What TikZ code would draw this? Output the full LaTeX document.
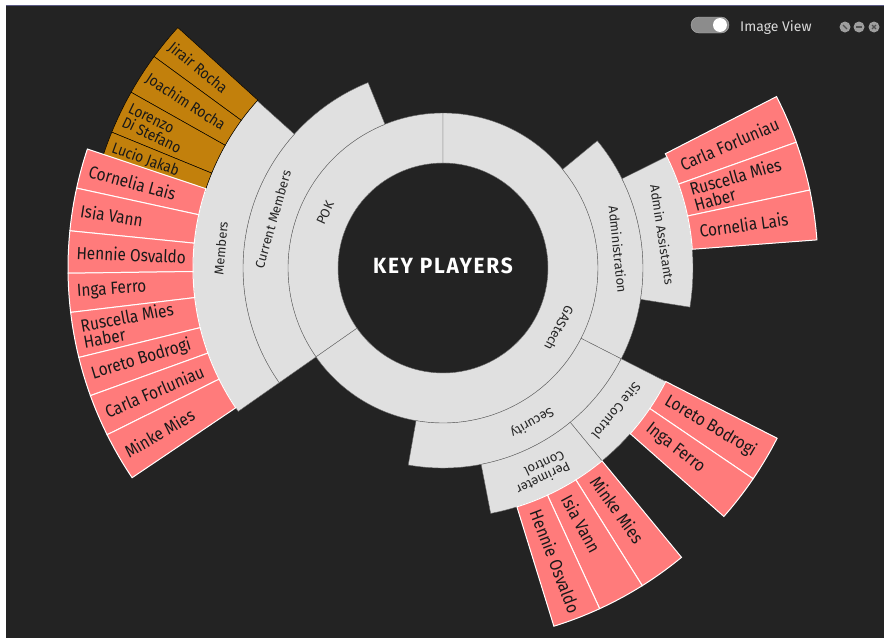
\documentclass[tikz,border=0pt]{standalone}
\usepackage{fontspec}
\setmainfont{Fira Sans}
\newfontfamily\condfont[FakeStretch=0.88]{Fira Sans}
\newfontfamily\titlefont[FakeStretch=0.95,LetterSpace=8]{Fira Sans}
\definecolor{panel}{HTML}{232323}
\definecolor{ringgrey}{HTML}{E0E0E0}
\definecolor{leafpink}{HTML}{FF7B7B}
\definecolor{leafocre}{HTML}{C2800C}
\definecolor{knobgrey}{HTML}{8C8C8C}
\newcommand{\sunslice}[5]{\draw[#1] (#2:#4pt) arc[start angle=#2, end angle=#3, radius=#4pt] -- (#3:#5pt) arc[start angle=#3, end angle=#2, radius=#5pt] -- cycle;}

\begin{document}
\begin{tikzpicture}[x=1pt,y=1pt,
  ring/.style={fill=ringgrey,draw=black!60,line width=0.4pt},
  pinkleaf/.style={fill=leafpink,draw=white,line width=1pt},
  ocreleaf/.style={fill=leafocre,draw=black,line width=0.5pt},
  ringlabel/.style={font=\fontsize{13}{13}\selectfont,text=black!85,inner sep=0pt,align=center},
  leaflabel/.style={font=\condfont\fontsize{17.5}{16.5}\selectfont,text=black!90,inner sep=0pt,align=left},
  ocrelabel/.style={leaflabel,font=\condfont\fontsize{15.5}{15}\selectfont}]
\useasboundingbox (-443,-370) rectangle (441,268);
\fill[white] (-443,-370) rectangle (441,268);
\fill[panel] (-437,-370) rectangle (441,263);
\draw[black!45!blue!30!gray,line width=1pt] (-437,262.5) -- (441,262.5);

% inner rings
\sunslice{ring}{90}{215}{105}{155}
\sunslice{ring}{215}{450}{105}{155}
\sunslice{ring}{112}{215}{155}{200}
\sunslice{ring}{-27}{39.5}{155}{200}
\sunslice{ring}{-100}{-27}{155}{200}
\sunslice{ring}{138}{215}{200}{250}
\sunslice{ring}{-9}{26.5}{200}{250}
\sunslice{ring}{-50.5}{-27}{200}{250}
\sunslice{ring}{-79}{-50.5}{200}{250}

\node[ringlabel,rotate=65] (pok) at (155:130pt) {POK};
\node[ringlabel,rotate=-117.5] (gastech) at (-27.5:131pt) {GAStech};
\node[ringlabel,rotate=74] (current) at (164:177pt) {Current Members};
\node[ringlabel,rotate=-84] (admin) at (6:176pt) {Administration};
\node[ringlabel,rotate=-150] (security) at (-60:178pt) {Security};
\node[ringlabel,rotate=85] (members) at (175:223pt) {Members};
\node[ringlabel,rotate=-81.4] (assist) at (8.6:222pt) {Admin Assistants};
\node[ringlabel,rotate=-129.5] (site) at (-39.5:225pt) {Site Control};
\node[ringlabel,rotate=-154.5,align=left] (perimeter) at (-64.5:227pt) {Perimeter\\Control};

% past members (ocre)
\foreach \a/\b/\who in {137.8/143.8/{Jirair Rocha},143.8/150.6/{Joachim Rocha},
  150.6/157.7/{Lorenzo\\Di Stefano},157.7/162.2/{Lucio Jakab}} {
  \sunslice{ocreleaf}{\a}{\b}{250}{358}
  \pgfmathsetmacro\m{(\a+\b)/2}
  \node[ocrelabel,anchor=west,rotate=\m-180] at (\m:352pt) {\who};
}

% members (left)
\foreach \a/\b/\who in {161.5/167.7/{Cornelia Lais},167.7/174.3/{Isia Vann},
  174.3/180.8/{Hennie Osvaldo},180.8/186.8/{Inga Ferro},186.8/193.8/{Ruscella Mies\\Haber},
  193.8/199.9/{Loreto Bodrogi},199.9/206.4/{Carla Forluniau},206.4/214/{Minke Mies}} {
  \sunslice{pinkleaf}{\a}{\b}{250}{375}
  \pgfmathsetmacro\m{(\a+\b)/2}
  \node[leaflabel,anchor=west,rotate=\m-180] at (\m:367pt) {\who};
}

% right hand leaves
\foreach \a/\b/\who in {19.6/27.2/{Carla Forluniau},12/19.6/{Ruscella Mies\\Haber},
  4.3/12/{Cornelia Lais},-34.2/-27/{Loreto Bodrogi},-41.5/-34.2/{Inga Ferro},
  -57.9/-50.5/{Minke Mies},-65.3/-57.9/{Isia Vann},-72.8/-65.3/{Hennie Osvaldo}} {
  \sunslice{pinkleaf}{\a}{\b}{250}{375}
  \pgfmathsetmacro\m{(\a+\b)/2}
  \node[leaflabel,anchor=west,rotate=\m] at (\m:259pt) {\who};
}

\node[font=\titlefont\bfseries\fontsize{22}{22}\selectfont,text=white,anchor=base,inner sep=0pt] (title) at (0,-5) {KEY PLAYERS};

% window controls
\draw[fill=knobgrey,draw=black!30!white,rounded corners=8pt] (248,235) rectangle (286,251);
\fill[white] (277,243) circle[radius=7pt];
\node[anchor=base west,inner sep=0pt,text=black!15,font=\fontsize{14}{14}\selectfont] (view) at (297,237) {Image View};
\foreach \cx in {402,416,431} \fill[black!38] (\cx,241) circle[radius=5.5pt];
\draw[panel!80,line width=1.2pt] (400,243) -- (404,239);
\draw[panel!80,line width=1.2pt] (413,241) -- (419,241);
\draw[panel!80,line width=1.2pt] (429,243) -- (433,239) (429,239) -- (433,243);
\end{tikzpicture}
\end{document}
